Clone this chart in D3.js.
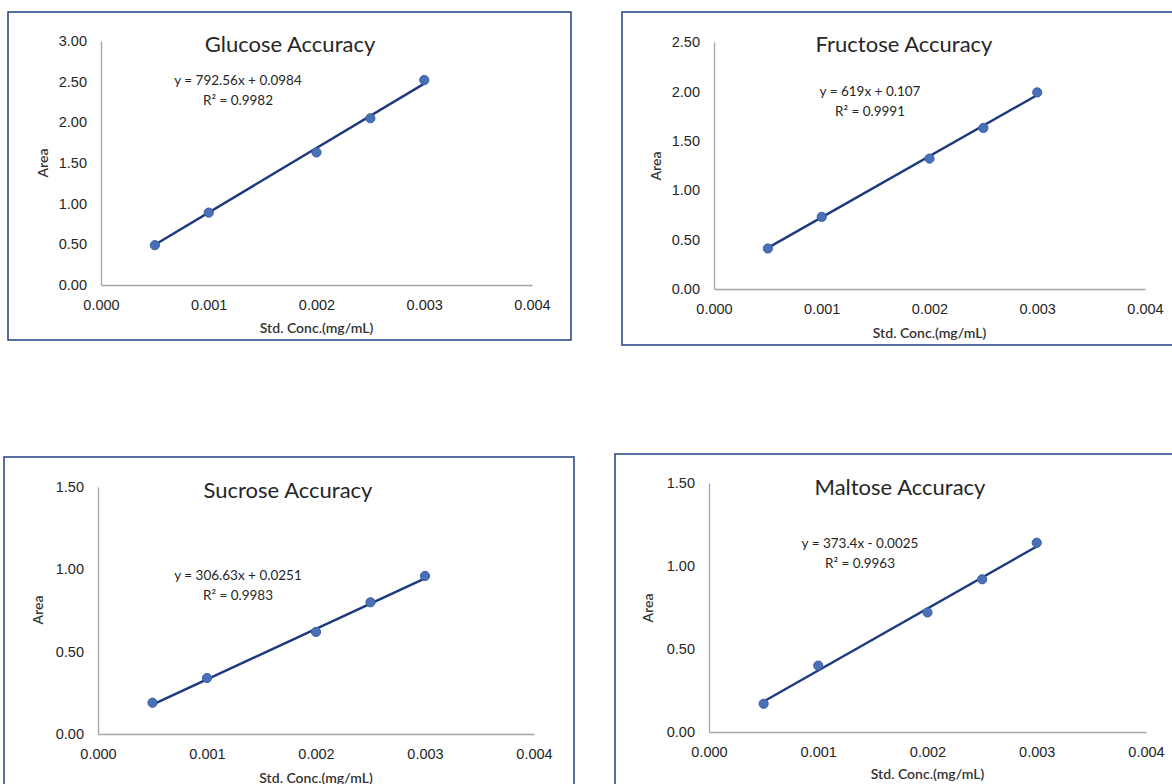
<!DOCTYPE html>
<html>
<head>
<meta charset="utf-8">
<script src="https://cdn.jsdelivr.net/npm/d3@7"></script>
<style>
  body { margin: 0; background: #fff; }
  svg { display: block; font-family: Lato, "Open Sans", sans-serif; }
  .axis path { stroke: #a6a6a6; stroke-width: 1.4; }
  .axis text { fill: #262626; font-size: 14.5px; }
</style>
</head>
<body>
<div id="chart"></div>
<script>
// data
var sugars = ["Glucose", "Fructose", "Sucrose", "Maltose"];
var concentrations = [0.0005, 0.001, 0.002, 0.0025, 0.003];
var xTicks = [0, 0.001, 0.002, 0.003, 0.004];
var glucoseArea = [0.49, 0.89, 1.63, 2.05, 2.52];
var fructoseArea = [0.41, 0.73, 1.32, 1.63, 1.99];
var sucroseArea = [0.19, 0.34, 0.62, 0.80, 0.96];
var maltoseArea = [0.17, 0.40, 0.72, 0.92, 1.14];
var slopes = [792.56, 619, 306.63, 373.4];
var intercepts = [0.0984, 0.107, 0.0251, -0.0025];
var rSquared = ["0.9982", "0.9991", "0.9983", "0.9963"];
var yTicksList = [
  [0, 0.5, 1, 1.5, 2, 2.5, 3],
  [0, 0.5, 1, 1.5, 2, 2.5],
  [0, 0.5, 1, 1.5],
  [0, 0.5, 1, 1.5]
];
var areas = [glucoseArea, fructoseArea, sucroseArea, maltoseArea];

// where each panel sits on the page
var layout = [
  { box: [8, 12, 563, 328], plot: [101, 532, 41, 285], title: [290, 43], eq: [238, 80], area: [42, 163], xt: 327 },
  { box: [622, 12, 600, 333], plot: [714, 1145, 42, 289], title: [904, 43], eq: [870, 91], area: [655, 166], xt: 332 },
  { box: [4, 457, 570, 400], plot: [98, 534, 487, 734], title: [288, 489], eq: [238, 575], area: [37, 610], xt: 777 },
  { box: [615, 454, 600, 400], plot: [709, 1146, 483, 732], title: [900, 486], eq: [860, 543], area: [647, 608], xt: 773 }
];

var width = 1172, height = 784;
var svg = d3.select("#chart").append("svg")
  .attr("width", width)
  .attr("height", height);

sugars.forEach(function(name, i) {
  var L = layout[i];
  var g = svg.append("g");

  // outer frame
  g.append("rect")
    .attr("x", L.box[0]).attr("y", L.box[1])
    .attr("width", L.box[2]).attr("height", L.box[3])
    .attr("fill", "none")
    .attr("stroke", "#2f4a8a")
    .attr("stroke-width", 1.6);

  var yTicks = yTicksList[i];
  var x = d3.scaleLinear().domain([0, 0.004]).range([L.plot[0], L.plot[1]]);
  var y = d3.scaleLinear().domain([0, d3.max(yTicks)]).range([L.plot[3], L.plot[2]]);

  g.append("g")
    .attr("class", "axis")
    .attr("transform", "translate(0," + L.plot[3] + ")")
    .call(d3.axisBottom(x).tickValues(xTicks).tickFormat(d3.format(".3f")).tickSize(0).tickPadding(15))
    .call(function(a) { a.selectAll(".tick line").remove(); });

  g.append("g")
    .attr("class", "axis")
    .attr("transform", "translate(" + L.plot[0] + ",0)")
    .call(d3.axisLeft(y).tickValues(yTicks).tickFormat(d3.format(".2f")).tickSize(0).tickPadding(14))
    .call(function(a) { a.selectAll(".tick line").remove(); });

  // trendline from the fitted equation
  var x0 = d3.min(concentrations), x1 = d3.max(concentrations);
  g.append("line")
    .attr("x1", x(x0)).attr("y1", y(slopes[i] * x0 + intercepts[i]))
    .attr("x2", x(x1)).attr("y2", y(slopes[i] * x1 + intercepts[i]))
    .attr("stroke", "#1d3a7e")
    .attr("stroke-width", 2.4);

  g.selectAll("circle")
    .data(concentrations)
    .enter().append("circle")
    .attr("cx", function(d) { return x(d); })
    .attr("cy", function(d, j) { return y(areas[i][j]); })
    .attr("r", 4.6)
    .attr("fill", "#4a70b8")
    .attr("stroke", "#3a5ea6")
    .attr("stroke-width", 1);

  g.append("text")
    .attr("x", L.title[0]).attr("y", L.title[1])
    .attr("text-anchor", "middle").attr("dominant-baseline", "central")
    .attr("font-size", 22).attr("fill", "#262626")
    .text(name + " Accuracy");

  var sign = intercepts[i] < 0 ? " - " : " + ";
  g.append("text")
    .attr("x", L.eq[0]).attr("y", L.eq[1])
    .attr("text-anchor", "middle").attr("dominant-baseline", "central")
    .attr("font-size", 13.5).attr("fill", "#262626")
    .text("y = " + slopes[i] + "x" + sign + Math.abs(intercepts[i]));
  g.append("text")
    .attr("x", L.eq[0]).attr("y", L.eq[1] + 20)
    .attr("text-anchor", "middle").attr("dominant-baseline", "central")
    .attr("font-size", 13.5).attr("fill", "#262626")
    .text("R\u00b2 = " + rSquared[i]);

  g.append("text")
    .attr("x", (L.plot[0] + L.plot[1]) / 2).attr("y", L.xt)
    .attr("text-anchor", "middle").attr("dominant-baseline", "central")
    .attr("font-size", 14).attr("font-weight", 600).attr("fill", "#333")
    .text("Std. Conc.(mg/mL)");

  g.append("text")
    .attr("transform", "translate(" + L.area[0] + "," + L.area[1] + ") rotate(-90)")
    .attr("text-anchor", "middle").attr("dominant-baseline", "central")
    .attr("font-size", 14).attr("font-weight", 600).attr("fill", "#333")
    .text("Area");
});
</script>
</body>
</html>
